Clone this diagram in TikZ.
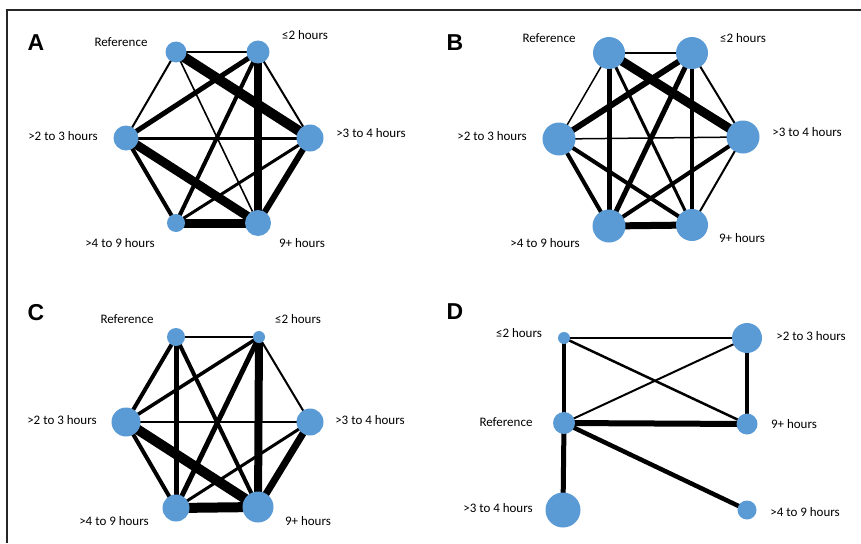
\documentclass[tikz,border=0pt]{standalone}
\usepackage{fontspec}
\setmainfont{Carlito}
\newfontfamily\panelfont{Liberation Sans}
\usetikzlibrary{backgrounds}
\definecolor{nodeblue}{RGB}{91,155,213}
\tikzset{
	vtx/.style={circle, fill=nodeblue, inner sep=0pt, minimum size=#1},
	lbl/.style={font=\fontsize{13}{15}\selectfont, inner sep=0pt},
	panel/.style={font=\panelfont\bfseries\fontsize{23}{25}\selectfont, inner sep=0pt},
	wt/.style={line width=#1pt},
}

\begin{document}
\begin{tikzpicture}[x=1pt, y=-1pt]
	\useasboundingbox (0,0) rectangle (861,543);
	\draw [line width=2.4pt, black!85] (7,543) -- (7,10) -- (861,10);

	% panel A
	\node [panel] (pA) at (36,43) {A};
	\node [vtx=21pt] (aref) at (176,52) {};
	\node [vtx=23pt] (ale2) at (258,52) {};
	\node [vtx=25pt] (a23) at (126,138) {};
	\node [vtx=27pt] (a34) at (310,138) {};
	\node [vtx=18pt] (a49) at (176,223) {};
	\node [vtx=26pt] (a9p) at (258,223) {};
	\node [lbl] (taref) at (121,42) {Reference};
	\node [lbl] (tale2) at (305,35) {≤2 hours};
	\node [lbl] (ta23) at (63,136) {>2 to 3 hours};
	\node [lbl] (ta34) at (371,133) {>3 to 4 hours};
	\node [lbl] (ta49) at (120,243) {>4 to 9 hours};
	\node [lbl] (ta9p) at (302,243) {9+ hours};
	\begin{scope}[on background layer]
		\draw [wt=2] (aref.center) -- (ale2.center);
		\draw [wt=10] (aref.center) -- (a34.center);
		\draw [wt=2] (aref.center) -- (a23.center);
		\draw [wt=1.6] (aref.center) -- (a9p.center);
		\draw [wt=5] (ale2.center) -- (a23.center);
		\draw [wt=4] (ale2.center) -- (a49.center);
		\draw [wt=8] (ale2.center) -- (a9p.center);
		\draw [wt=2] (ale2.center) -- (a34.center);
		\draw [wt=3] (a23.center) -- (a34.center);
		\draw [wt=9] (a23.center) -- (a9p.center);
		\draw [wt=4] (a23.center) -- (a49.center);
		\draw [wt=6] (a34.center) -- (a9p.center);
		\draw [wt=3] (a34.center) -- (a49.center);
		\draw [wt=9] (a49.center) -- (a9p.center);
	\end{scope}

	% panel B
	\node [panel] (pB) at (455,43) {B};
	\node [vtx=32pt] (bref) at (609,53) {};
	\node [vtx=32pt] (ble2) at (692,53) {};
	\node [vtx=33pt] (b23) at (559,139) {};
	\node [vtx=33pt] (b34) at (743,137) {};
	\node [vtx=33pt] (b49) at (609,226) {};
	\node [vtx=32pt] (b9p) at (692,225) {};
	\node [lbl] (tbref) at (549,38) {Reference};
	\node [lbl] (tble2) at (743,38) {≤2 hours};
	\node [lbl] (tb23) at (492,136) {>2 to 3 hours};
	\node [lbl] (tb34) at (807,132) {>3 to 4 hours};
	\node [lbl] (tb49) at (545,243) {>4 to 9 hours};
	\node [lbl] (tb9p) at (742,238) {9+ hours};
	\begin{scope}[on background layer]
		\draw [wt=1.5] (bref.center) -- (ble2.center);
		\draw [wt=9] (bref.center) -- (b34.center);
		\draw [wt=1.5] (bref.center) -- (b23.center);
		\draw [wt=5] (bref.center) -- (b49.center);
		\draw [wt=3] (bref.center) -- (b9p.center);
		\draw [wt=6] (ble2.center) -- (b23.center);
		\draw [wt=5] (ble2.center) -- (b49.center);
		\draw [wt=4] (ble2.center) -- (b9p.center);
		\draw [wt=2] (ble2.center) -- (b34.center);
		\draw [wt=1.5] (b23.center) -- (b34.center);
		\draw [wt=4] (b23.center) -- (b49.center);
		\draw [wt=4] (b23.center) -- (b9p.center);
		\draw [wt=4] (b34.center) -- (b49.center);
		\draw [wt=2] (b34.center) -- (b9p.center);
		\draw [wt=7] (b49.center) -- (b9p.center);
	\end{scope}

	% panel C
	\node [panel] (pC) at (36,313) {C};
	\node [vtx=18pt] (cref) at (176,337) {};
	\node [vtx=12pt] (cle2) at (259,337) {};
	\node [vtx=29pt] (c23) at (126,422) {};
	\node [vtx=27pt] (c34) at (310,422) {};
	\node [vtx=27pt] (c49) at (176,508) {};
	\node [vtx=31pt] (c9p) at (258,507) {};
	\node [lbl] (tcref) at (127,319) {Reference};
	\node [lbl] (tcle2) at (298,319) {≤2 hours};
	\node [lbl] (tc23) at (62,420) {>2 to 3 hours};
	\node [lbl] (tc34) at (370,420) {>3 to 4 hours};
	\node [lbl] (tc49) at (114,521) {>4 to 9 hours};
	\node [lbl] (tc9p) at (308,521) {9+ hours};
	\begin{scope}[on background layer]
		\draw [wt=2] (cref.center) -- (cle2.center);
		\draw [wt=4] (cref.center) -- (c23.center);
		\draw [wt=5] (cref.center) -- (c49.center);
		\draw [wt=4] (cref.center) -- (c9p.center);
		\draw [wt=3.5] (cle2.center) -- (c23.center);
		\draw [wt=5] (cle2.center) -- (c49.center);
		\draw [wt=8] (cle2.center) -- (c9p.center);
		\draw [wt=2] (cle2.center) -- (c34.center);
		\draw [wt=1.5] (c23.center) -- (c34.center);
		\draw [wt=4] (c23.center) -- (c49.center);
		\draw [wt=10] (c23.center) -- (c9p.center);
		\draw [wt=3] (c34.center) -- (c49.center);
		\draw [wt=7] (c34.center) -- (c9p.center);
		\draw [wt=10] (c49.center) -- (c9p.center);
	\end{scope}

	% panel D
	\node [panel] (pD) at (455,312) {D};
	\node [vtx=12pt] (dle2) at (564,338) {};
	\node [vtx=30pt] (d23) at (747,338) {};
	\node [vtx=22pt] (dref) at (564,423) {};
	\node [vtx=21pt] (d9p) at (747,424) {};
	\node [vtx=35pt] (d34) at (563,510) {};
	\node [vtx=19pt] (d49) at (747,510) {};
	\node [lbl] (tdle2) at (519,333) {≤2 hours};
	\node [lbl] (td23) at (811,336) {>2 to 3 hours};
	\node [lbl] (tdref) at (506,422) {Reference};
	\node [lbl] (td9p) at (794,424) {9+ hours};
	\node [lbl] (td34) at (498,508) {>3 to 4 hours};
	\node [lbl] (td49) at (805,512) {>4 to 9 hours};
	\begin{scope}[on background layer]
		\draw [wt=2] (dle2.center) -- (d23.center);
		\draw [wt=4] (dle2.center) -- (dref.center);
		\draw [wt=2.5] (dle2.center) -- (d9p.center);
		\draw [wt=2] (d23.center) -- (dref.center);
		\draw [wt=4.5] (d23.center) -- (d9p.center);
		\draw [wt=6] (dref.center) -- (d9p.center);
		\draw [wt=5] (dref.center) -- (d34.center);
		\draw [wt=4.5] (dref.center) -- (d49.center);
	\end{scope}
\end{tikzpicture}
\end{document}
